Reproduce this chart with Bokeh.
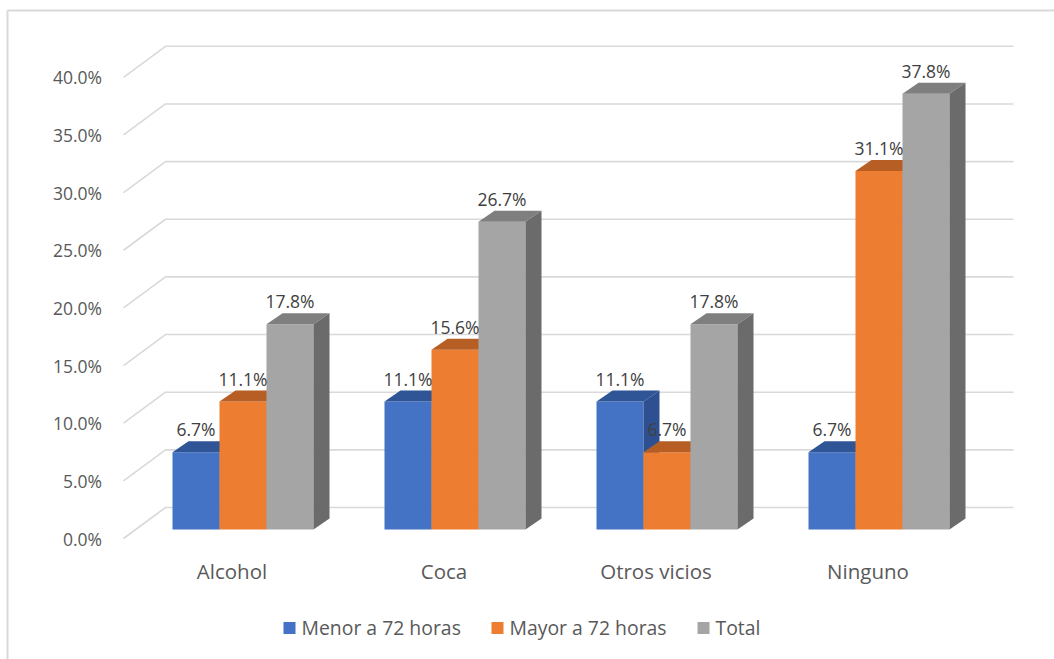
from bokeh.plotting import figure
from bokeh.models import Range1d
from bokeh.core.properties import value
from bokeh.embed import file_html
from bokeh.resources import INLINE

# ---- data -------------------------------------------------------------
categories = ["Alcohol", "Coca", "Otros vicios", "Ninguno"]
series_names = ["Menor a 72 horas", "Mayor a 72 horas", "Total"]
menor_72 = [6.7, 11.1, 11.1, 6.7]
mayor_72 = [11.1, 15.6, 6.7, 31.1]
total = [17.8, 26.7, 17.8, 37.8]
y_ticks = [0, 5, 10, 15, 20, 25, 30, 35, 40]
y_tick_labels = ["0.0%", "5.0%", "10.0%", "15.0%", "20.0%", "25.0%", "30.0%", "35.0%", "40.0%"]

series_values = [menor_72, mayor_72, total]

# ---- styling ----------------------------------------------------------
front_colors = ["#4472C4", "#ED7D31", "#A5A5A5"]
top_colors = ["#2F5597", "#B65E24", "#7F7F7F"]
side_colors = ["#2E5090", "#A9561F", "#6B6B6B"]
grid_color = "#D9D9D9"
text_color = "#595959"
label_color = "#404040"
FONT = value("Open Sans")

W, H = 1054, 659
PX_CAT = 212.0    # pixels per category slot
PX_PCT = 11.53    # pixels per percentage point
X0_PX = 242.5     # screen x of the first bar group's centre
Y0_PX = 529.0     # screen y of the bars' front floor edge


def ux(px):
    return px / PX_CAT


def uy(px):
    return px / PX_PCT


def sx(px):
    return ux(px - X0_PX)


def sy(py):
    return uy(Y0_PX - py)


BAR_W = ux(47)          # width of one bar
DEPTH_X = ux(16)        # oblique depth of a bar
DEPTH_Y = uy(11)
AXIS_FRONT_X = sx(123)  # front end of the gridlines
AXIS_BACK_X = sx(165)   # back wall left edge
WALL_RIGHT_X = sx(1013)
FRONT_DY = uy(-9)       # front axis plane relative to bar fronts
BACK_DY = uy(22)        # back wall relative to bar fronts

p = figure(width=W, height=H, x_range=Range1d(sx(0), sx(W)), y_range=Range1d(sy(H), sy(0)),
           output_backend="svg", toolbar_location=None, min_border=0,
           x_axis_type=None, y_axis_type=None, outline_line_color=None,
           background_fill_color="white", border_fill_color="white")

# chart area border
p.line([sx(7), sx(7)], [sy(10), sy(H + 2)], line_color=grid_color, line_width=2)
p.line([sx(7), sx(W + 2)], [sy(10), sy(10)], line_color=grid_color, line_width=2)

# gridlines: slanted run from the axis to the back wall, then along the wall
grid_xs = [[AXIS_FRONT_X, AXIS_BACK_X, WALL_RIGHT_X] for _ in y_ticks]
grid_ys = [[t + FRONT_DY, t + BACK_DY, t + BACK_DY] for t in y_ticks]
p.multi_line(grid_xs, grid_ys, line_color=grid_color, line_width=1.6)

# y tick labels
p.text(x=[sx(101.5)] * len(y_ticks), y=[t + FRONT_DY for t in y_ticks], text=y_tick_labels,
       text_align="right", text_baseline="middle", text_font=FONT,
       text_font_size="17.5px", text_color=text_color)

# 3D bars
n_series = len(series_values)
for k, vals in enumerate(series_values):
    shift = (k - (n_series - 1) / 2) * BAR_W
    lefts = [i + shift - BAR_W / 2 for i in range(len(categories))]
    rights = [l + BAR_W for l in lefts]
    p.quad(left=lefts, right=rights, bottom=[0] * len(vals), top=vals,
           fill_color=front_colors[k], line_color=None)
    top_xs = [[l, r, r + DEPTH_X, l + DEPTH_X] for l, r in zip(lefts, rights)]
    top_ys = [[v, v, v + DEPTH_Y, v + DEPTH_Y] for v in vals]
    p.patches(top_xs, top_ys, fill_color=top_colors[k], line_color=None)
    side_xs = [[r, r + DEPTH_X, r + DEPTH_X, r] for r in rights]
    side_ys = [[0, DEPTH_Y, v + DEPTH_Y, v] for v in vals]
    p.patches(side_xs, side_ys, fill_color=side_colors[k], line_color=None)

# value labels (drawn after all bars so none is hidden)
for k, vals in enumerate(series_values):
    shift = (k - (n_series - 1) / 2) * BAR_W
    p.text(x=[i + shift for i in range(len(categories))], y=[v + uy(23) for v in vals],
           text=[f"{v:.1f}%" for v in vals], text_align="center", text_baseline="middle",
           text_font=FONT, text_font_size="17.5px", text_color=label_color)

# category labels
p.text(x=[i + ux(-11) for i in range(len(categories))], y=[sy(570)] * len(categories),
       text=categories, text_align="center", text_baseline="middle",
       text_font=FONT, text_font_size="20.5px", text_color=text_color)

# legend
legend_box_x = [289, 497, 703]
legend_text_x = [301, 509, 715]
p.rect(x=[sx(v) for v in legend_box_x], y=[sy(627.5)] * 3, width=12, height=12,
       width_units="screen", height_units="screen", fill_color=front_colors, line_color=None)
p.text(x=[sx(v) for v in legend_text_x], y=[sy(627)] * 3, text=series_names,
       text_align="left", text_baseline="middle", text_font=FONT,
       text_font_size="19.4px", text_color=text_color)

open("out.html", "w").write(file_html(p, INLINE))
